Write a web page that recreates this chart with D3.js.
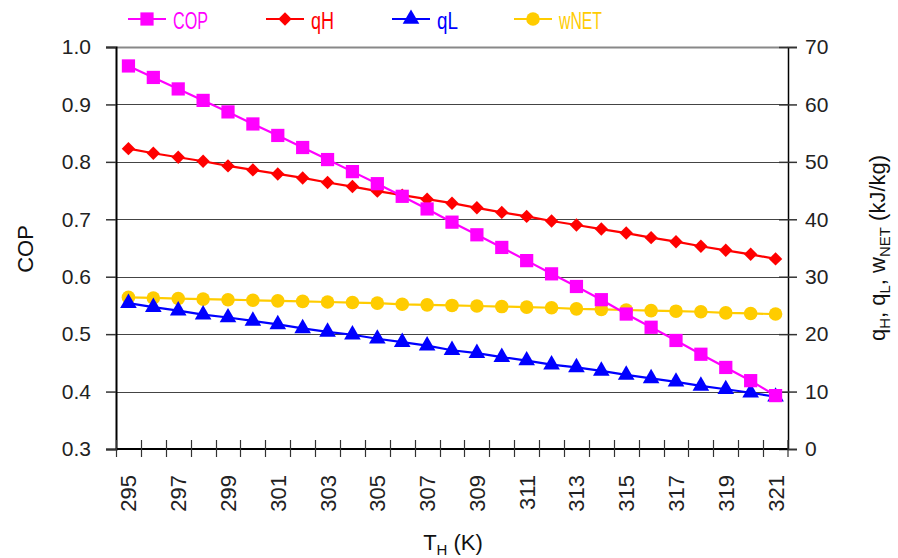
<!DOCTYPE html>
<html>
<head>
<meta charset="utf-8">
<script src="https://cdn.jsdelivr.net/npm/d3@7"></script>
<style>
  body { margin: 0; background: #fff; }
  text { font-family: "Liberation Sans", Arial, sans-serif; }
</style>
</head>
<body>
<svg id="chart" width="898" height="558"></svg>
<script>
// T_H (K)
var temps = [295, 296, 297, 298, 299, 300, 301, 302, 303, 304, 305, 306, 307, 308,
  309, 310, 311, 312, 313, 314, 315, 316, 317, 318, 319, 320, 321];
var cop = [0.967, 0.947, 0.927, 0.907, 0.887, 0.866, 0.846, 0.825, 0.804, 0.783, 0.762,
  0.740, 0.718, 0.695, 0.673, 0.651, 0.628, 0.605, 0.583, 0.560, 0.535, 0.512, 0.489,
  0.465, 0.442, 0.419, 0.393];
var qH = [52.3, 51.5, 50.8, 50.1, 49.3, 48.6, 47.9, 47.2, 46.4, 45.7, 44.9, 44.2, 43.5,
  42.8, 42.0, 41.2, 40.5, 39.7, 39.0, 38.3, 37.6, 36.8, 36.1, 35.3, 34.6, 33.9, 33.1];
var qL = [25.4, 24.7, 24.1, 23.4, 22.9, 22.3, 21.7, 21.0, 20.4, 19.9, 19.2, 18.6, 18.0,
  17.2, 16.7, 16.0, 15.4, 14.7, 14.2, 13.6, 12.9, 12.3, 11.7, 11.0, 10.4, 9.8, 9.1];
var wNET = [26.4, 26.3, 26.2, 26.1, 26.0, 25.9, 25.8, 25.7, 25.6, 25.5, 25.4, 25.2, 25.1,
  25.0, 24.9, 24.8, 24.7, 24.6, 24.4, 24.3, 24.2, 24.1, 24.0, 23.9, 23.7, 23.6, 23.5];
var copTicks = [0.3, 0.4, 0.5, 0.6, 0.7, 0.8, 0.9, 1.0];
var qTicks = [0, 10, 20, 30, 40, 50, 60, 70];

var svg = d3.select("#chart");
var plotLeft = 116, plotRight = 788, plotTop = 47, plotBottom = 449;

var x = d3.scaleBand().domain(temps).range([plotLeft, plotRight]);
var yL = d3.scaleLinear().domain([0.3, 1.0]).range([plotBottom, plotTop]);
var yR = d3.scaleLinear().domain([0, 70]).range([plotBottom, plotTop]);
var cx = function (d) { return x(d) + x.bandwidth() / 2; };

// gridlines
svg.append("g").selectAll("line").data(copTicks).join("line")
  .attr("x1", plotLeft).attr("x2", plotRight)
  .attr("y1", function (d) { return Math.round(yL(d)) + 0.5; })
  .attr("y2", function (d) { return Math.round(yL(d)) + 0.5; })
  .attr("stroke", function (d) { return d === 1.0 ? "#888" : "#444"; })
  .attr("stroke-width", function (d) { return d === 1.0 ? 2 : 1; });

// left axis
var gl = svg.append("g").attr("transform", "translate(" + plotLeft + ",0)")
  .call(d3.axisLeft(yL).tickValues(copTicks).tickFormat(d3.format(".1f")).tickSize(10).tickPadding(15));
gl.select(".domain").attr("stroke", "#000").attr("stroke-width", 2);
gl.selectAll(".tick line").attr("stroke", "#333").attr("stroke-width", 1.5);
gl.selectAll(".tick text").attr("font-size", 21).attr("fill", "#222")
  .style("font-family", "Liberation Sans, Arial, sans-serif");

// right axis
var gr = svg.append("g").attr("transform", "translate(" + plotRight + ",0)")
  .call(d3.axisRight(yR).tickValues(qTicks).tickSize(9).tickPadding(8));
gr.select(".domain").attr("stroke", "#000").attr("stroke-width", 1.5);
gr.selectAll(".tick line").attr("stroke", "#333").attr("stroke-width", 1.5).attr("x1", -9);
gr.selectAll(".tick text").attr("font-size", 21).attr("fill", "#222")
  .style("font-family", "Liberation Sans, Arial, sans-serif");

// x axis line and boundary ticks
svg.append("line").attr("x1", plotLeft).attr("x2", plotRight).attr("y1", plotBottom).attr("y2", plotBottom)
  .attr("stroke", "#000").attr("stroke-width", 2);
svg.append("g").selectAll("line").data(temps.concat(["end"])).join("line")
  .attr("x1", function (d) { return d === "end" ? plotRight : Math.round(x(d)) + 0.5; })
  .attr("x2", function (d) { return d === "end" ? plotRight : Math.round(x(d)) + 0.5; })
  .attr("y1", plotBottom - 9).attr("y2", plotBottom + 8)
  .attr("stroke", "#333").attr("stroke-width", 1.2);

// x tick labels, every other category, rotated
svg.append("g").selectAll("text").data(temps.filter(function (d, i) { return i % 2 === 0; }))
  .join("text")
  .attr("transform", function (d) { return "translate(" + (cx(d) + 8) + "," + 475 + ") rotate(-90)"; })
  .attr("text-anchor", "end")
  .attr("font-size", 22).attr("fill", "#222")
  .text(function (d) { return d; });

// axis titles
svg.append("text").attr("transform", "translate(33,249) rotate(-90)")
  .attr("text-anchor", "middle").attr("font-size", 22).attr("fill", "#111").text("COP");

var rt = svg.append("text").attr("transform", "translate(885,248) rotate(-90)")
  .attr("text-anchor", "middle").attr("font-size", 22).attr("fill", "#111");
rt.append("tspan").text("q");
rt.append("tspan").attr("font-size", 15).attr("dy", 5).text("H");
rt.append("tspan").attr("dy", -5).text(", q");
rt.append("tspan").attr("font-size", 15).attr("dy", 5).text("L");
rt.append("tspan").attr("dy", -5).text(", w");
rt.append("tspan").attr("font-size", 15).attr("dy", 5).text("NET");
rt.append("tspan").attr("dy", -5).text(" (kJ/kg)");

var xt = svg.append("text").attr("x", 453).attr("y", 550)
  .attr("text-anchor", "middle").attr("font-size", 22).attr("fill", "#111");
xt.append("tspan").text("T");
xt.append("tspan").attr("font-size", 15).attr("dy", 5).text("H");
xt.append("tspan").attr("dy", -5).text(" (K)");

// series
var series = [
  { name: "COP", values: cop, y: yL, color: "#FF00FF", symbol: d3.symbolSquare, size: 175, rot: 0, tl: 35 },
  { name: "qH", values: qH, y: yR, color: "#FF0000", symbol: d3.symbolSquare, size: 90, rot: 45, tl: 23 },
  { name: "qL", values: qL, y: yR, color: "#0000FF", symbol: d3.symbolTriangle, size: 120, rot: 0, tl: 21 },
  { name: "wNET", values: wNET, y: yR, color: "#FFCC00", symbol: d3.symbolCircle, size: 145, rot: 0, tl: 43 }
];
// draw order: wNET and qL underneath
[series[3], series[2], series[1], series[0]].forEach(function (s) {
  var pts = temps.map(function (t, i) { return [cx(t), s.y(s.values[i])]; });
  svg.append("path").attr("d", d3.line()(pts)).attr("fill", "none")
    .attr("stroke", s.color).attr("stroke-width", 2.2);
  svg.append("g").selectAll("path").data(pts).join("path")
    .attr("transform", function (p) { return "translate(" + p[0] + "," + p[1] + ") rotate(" + s.rot + ")"; })
    .attr("d", d3.symbol().type(s.symbol).size(s.size))
    .attr("fill", s.color);
});

// legend
var legX = [128, 266, 392, 514];
series.forEach(function (s, i) {
  var g = svg.append("g").attr("transform", "translate(" + legX[i] + ",19)");
  g.append("line").attr("x1", 0).attr("x2", 38).attr("stroke", s.color).attr("stroke-width", 2.2);
  g.append("path").attr("transform", "translate(19,0) rotate(" + s.rot + ")")
    .attr("d", d3.symbol().type(s.symbol).size(s.size)).attr("fill", s.color);
  g.append("text").attr("x", 45).attr("y", 10).attr("font-size", 23)
    .attr("textLength", s.tl).attr("lengthAdjust", "spacingAndGlyphs")
    .attr("fill", s.color).text(s.name);
});
</script>
</body>
</html>
